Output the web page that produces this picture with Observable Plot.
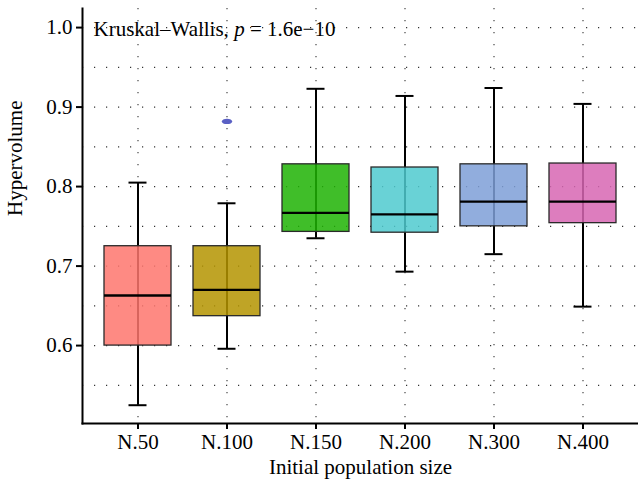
<!DOCTYPE html>
<html>
<head>
<meta charset="utf-8">
<script src="https://cdn.jsdelivr.net/npm/d3@7"></script>
<script src="https://cdn.jsdelivr.net/npm/@observablehq/plot@0.6"></script>
<style>
  html, body { margin: 0; padding: 0; background: white; }
  #chart svg { display: block; }
  #chart svg text { font-family: "Liberation Serif", "DejaVu Serif", serif; }
</style>
</head>
<body>
<div id="chart"></div>
<script>
// ---- data ----
const categories   = ["N.50", "N.100", "N.150", "N.200", "N.300", "N.400"];
const lowerWhisker = [0.525, 0.596, 0.735, 0.693, 0.715, 0.649];
const q1           = [0.600, 0.637, 0.743, 0.742, 0.750, 0.754];
const median       = [0.663, 0.670, 0.767, 0.765, 0.781, 0.781];
const q3           = [0.725, 0.725, 0.828, 0.824, 0.828, 0.829];
const upperWhisker = [0.805, 0.779, 0.923, 0.914, 0.924, 0.904];
const boxColors    = ["#FE756D", "#B49400", "#1EB304", "#4FCACF", "#7E9FD7", "#D766B3"];
const outlierGroup = ["N.100"];
const outlierValue = [0.882];
const yTicks       = [0.6, 0.7, 0.8, 0.9, 1.0];
const yGrid        = [0.55, 0.6, 0.65, 0.7, 0.75, 0.8, 0.85, 0.9, 0.95, 1.0];
const annotation   = "Kruskal\u2013Wallis, p = 1.6e\u221210";
const xTitle       = "Initial population size";
const yTitle       = "Hypervolume";

const boxes = categories.map((c, i) => ({
  group: c, lo: lowerWhisker[i], q1: q1[i], med: median[i], q3: q3[i], hi: upperWhisker[i], color: boxColors[i]
}));
const outliers = outlierGroup.map((g, i) => ({group: g, value: outlierValue[i]}));

const ellipse = {
  draw(ctx) {
    const rx = 5.2, ry = 2.7, k = 0.5523;
    ctx.moveTo(rx, 0);
    ctx.bezierCurveTo(rx, ry * k, rx * k, ry, 0, ry);
    ctx.bezierCurveTo(-rx * k, ry, -rx, ry * k, -rx, 0);
    ctx.bezierCurveTo(-rx, -ry * k, -rx * k, -ry, 0, -ry);
    ctx.bezierCurveTo(rx * k, -ry, rx, -ry * k, rx, 0);
    ctx.closePath();
  }
};

const gridStyle = {stroke: "#333", strokeOpacity: 1, strokeWidth: 1.1, strokeDasharray: "1.2,10.8"};

const chart = Plot.plot({
  width: 638,
  height: 485,
  marginLeft: 82,
  marginRight: 0,
  marginTop: 8,
  marginBottom: 62,
  style: {fontFamily: "'Liberation Serif', serif", fontSize: "21px", background: "white", color: "black"},
  x: {type: "band", domain: categories, paddingInner: 0.25, paddingOuter: 0.225, label: null},
  y: {domain: [0.502, 1.024], label: null},
  color: {type: "identity"},
  marks: [
    Plot.gridY(yGrid, gridStyle),
    Plot.gridX(gridStyle),
    Plot.ruleX(boxes, {x: "group", y1: "lo", y2: "hi", stroke: "black", strokeWidth: 2}),
    Plot.tickY(boxes, {x: "group", y: "hi", stroke: "black", strokeWidth: 2, inset: 24.5}),
    Plot.tickY(boxes, {x: "group", y: "lo", stroke: "black", strokeWidth: 2, inset: 24.5}),
    Plot.barY(boxes, {x: "group", y1: "q1", y2: "q3", fill: "color", fillOpacity: 0.85, stroke: "#2a2a2a", strokeWidth: 1.3}),
    Plot.tickY(boxes, {x: "group", y: "med", stroke: "black", strokeWidth: 2.3}),
    Plot.dot(outliers, {x: "group", y: "value", fill: "#5a60c4", stroke: "none", symbol: ellipse, r: 3}),
    Plot.axisY({ticks: yTicks, tickFormat: ".1f", tickSize: 6, tickPadding: 4, strokeWidth: 2, fontSize: 21, label: null}),
    Plot.axisX({tickSize: 6, tickPadding: 5, strokeWidth: 2, fontSize: 21, label: null}),
    Plot.frame({anchor: "left", stroke: "black", strokeWidth: 2}),
    Plot.frame({anchor: "bottom", stroke: "black", strokeWidth: 2}),
    Plot.text([annotation], {frameAnchor: "top-left", textAnchor: "start", dx: 11, dy: 13, fontSize: 21}),
    Plot.text([xTitle], {frameAnchor: "bottom", dy: 50, fontSize: 21}),
    Plot.text([yTitle], {frameAnchor: "left", rotate: -90, dx: -67, fontSize: 21})
  ]
});

document.getElementById("chart").appendChild(chart);

// italic "p" in the annotation
for (const t of chart.querySelectorAll("text")) {
  if (t.textContent === annotation) {
    t.innerHTML = "";
    const parts = [["Kruskal\u2013Wallis, ", null], ["p", "italic"], [" = 1.6e\u221210", null]];
    for (const [s, st] of parts) {
      const ts = document.createElementNS("http://www.w3.org/2000/svg", "tspan");
      ts.textContent = s;
      if (st) ts.setAttribute("font-style", st);
      t.appendChild(ts);
    }
  }
}
</script>
</body>
</html>
